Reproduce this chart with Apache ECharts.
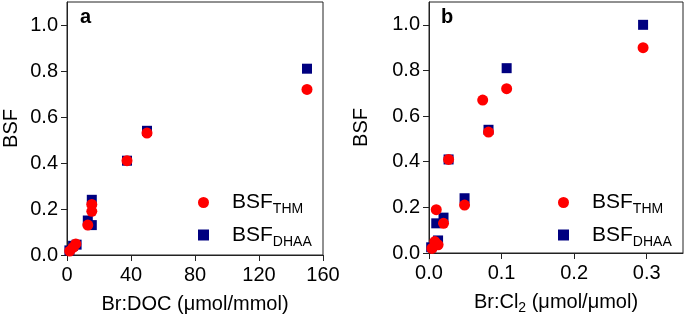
<!DOCTYPE html>
<html lang="en">
<head>
    <meta charset="UTF-8" />
    <title>BSF</title>
    <script src="https://cdn.jsdelivr.net/npm/echarts@6.0.0/dist/echarts.min.js"></script>
    <style>
        html, body { margin: 0; padding: 0; background: #fff; }
    </style>
</head>
<body>
    <div id="main" style="width: 685px; height: 320px"></div>

    <script>
        // panel a: Br:DOC
        var thmAx = [150, 50, 37.5, 15.5, 15.5, 13, 5.5, 3.8, 1.7];
        var thmAy = [0.72, 0.53, 0.41, 0.22, 0.19, 0.13, 0.048, 0.033, 0.017];
        var dhaaAx = [150, 50, 37.5, 15.5, 13, 15.5, 6, 3.8, 1.5];
        var dhaaAy = [0.81, 0.54, 0.41, 0.24, 0.15, 0.13, 0.045, 0.04, 0.02];

        // panel b: Br:Cl2
        var thmBx = [0.295, 0.107, 0.074, 0.082, 0.027, 0.049, 0.010, 0.020, 0.0125, 0.008, 0.004];
        var thmBy = [0.90, 0.72, 0.67, 0.53, 0.41, 0.21, 0.19, 0.13, 0.036, 0.05, 0.02];
        var dhaaBx = [0.295, 0.107, 0.082, 0.027, 0.049, 0.020, 0.010, 0.0125, 0.003];
        var dhaaBy = [1.00, 0.81, 0.54, 0.41, 0.24, 0.155, 0.13, 0.055, 0.025];

        var xTicksA = [0, 40, 80, 120, 160];
        var xTicksB = [0, 0.1, 0.2, 0.3];
        var yTicks = [0, 0.2, 0.4, 0.6, 0.8, 1.0];

        function pairs(xs, ys) {
            return xs.map(function (x, i) { return [x, ys[i]]; });
        }

        var axisColor = "#222";
        var subRich = {
            m: { fontSize: 20, lineHeight: 26, color: "#000" },
            s: { fontSize: 14, lineHeight: 12, verticalAlign: "bottom", color: "#000" }
        };

        function xAxisOf(idx, max, ticks, name, fmt) {
            return {
                gridIndex: idx,
                type: "value",
                min: 0,
                max: max,
                name: name,
                nameLocation: "middle",
                nameGap: 36,
                nameTextStyle: { rich: subRich },
                axisLine: { onZero: false, lineStyle: { color: axisColor } },
                axisTick: { customValues: ticks, length: 6, lineStyle: { color: axisColor } },
                axisLabel: { customValues: ticks, margin: 10, fontSize: 20, color: "#000", formatter: fmt },
                splitLine: { show: false }
            };
        }

        function yAxisOf(idx, gap) {
            return {
                gridIndex: idx,
                type: "value",
                min: 0,
                max: 1.1,
                name: "BSF",
                nameLocation: "middle",
                nameGap: gap,
                nameTextStyle: { fontSize: 20, color: "#000" },
                axisLine: { onZero: false, lineStyle: { color: axisColor } },
                axisTick: { customValues: yTicks, length: 6, lineStyle: { color: axisColor } },
                axisLabel: {
                    customValues: yTicks, margin: 9, fontSize: 20, color: "#000",
                    formatter: function (v) { return v.toFixed(1); }
                },
                splitLine: { show: false }
            };
        }

        function legendOf(left) {
            return {
                orient: "vertical",
                left: left,
                top: 192,
                padding: 0,
                itemWidth: 11,
                itemHeight: 11,
                itemGap: 8,
                data: ["BSF_THM", "BSF_DHAA"],
                formatter: function (name) {
                    return "{m|BSF}{s|" + name.split("_")[1] + "}";
                },
                textStyle: {
                    rich: {
                        m: { fontSize: 21, lineHeight: 28, color: "#000", padding: [0, 0, 0, 18] },
                        s: { fontSize: 14, lineHeight: 12, verticalAlign: "bottom", color: "#000" }
                    }
                }
            };
        }

        var chart = echarts.init(document.getElementById("main"));

        var option = {
            animation: false,
            textStyle: { fontFamily: "Liberation Sans" },
            title: [
                { text: "a", left: 80, top: 7, padding: 0, textStyle: { fontSize: 20, fontWeight: "bold", color: "#000" } },
                { text: "b", left: 441, top: 7, padding: 0, textStyle: { fontSize: 20, fontWeight: "bold", color: "#000" } }
            ],
            grid: [
                { left: 67, right: 362, top: 2, bottom: 65, show: true, borderColor: axisColor, borderWidth: 1 },
                { left: 429, right: 2, top: 2, bottom: 65, show: true, borderColor: axisColor, borderWidth: 1 }
            ],
            xAxis: [
                xAxisOf(0, 160, xTicksA, "{m|Br:DOC (μmol/mmol)}", function (v) { return String(v); }),
                xAxisOf(1, 0.35, xTicksB, "{m|Br:Cl}{s|2}{m| (μmol/μmol)}", function (v) { return v.toFixed(1); })
            ],
            yAxis: [yAxisOf(0, 46), yAxisOf(1, 58)],
            legend: [legendOf(198), legendOf(558)],
            series: [
                {
                    name: "BSF_DHAA", type: "scatter", xAxisIndex: 0, yAxisIndex: 0,
                    symbol: "rect", symbolSize: 10, itemStyle: { color: "#000080", opacity: 1 },
                    data: pairs(dhaaAx, dhaaAy)
                },
                {
                    name: "BSF_THM", type: "scatter", xAxisIndex: 0, yAxisIndex: 0,
                    symbol: "circle", symbolSize: 11, itemStyle: { color: "#ff0000", opacity: 1 },
                    data: pairs(thmAx, thmAy)
                },
                {
                    name: "BSF_DHAA", type: "scatter", xAxisIndex: 1, yAxisIndex: 1,
                    symbol: "rect", symbolSize: 10, itemStyle: { color: "#000080", opacity: 1 },
                    data: pairs(dhaaBx, dhaaBy)
                },
                {
                    name: "BSF_THM", type: "scatter", xAxisIndex: 1, yAxisIndex: 1,
                    symbol: "circle", symbolSize: 11, itemStyle: { color: "#ff0000", opacity: 1 },
                    data: pairs(thmBx, thmBy)
                }
            ]
        };
        chart.setOption(option);
    </script>
</body>
</html>
